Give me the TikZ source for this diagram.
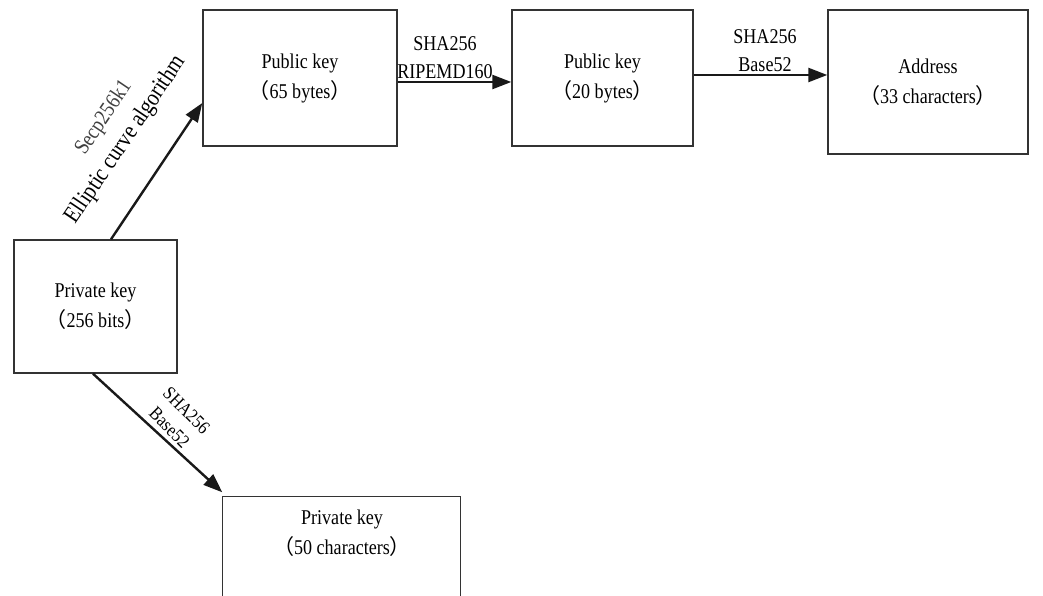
\documentclass[tikz,border=0pt]{standalone}
\usepackage{fontspec}
\setmainfont{Liberation Serif}[FakeStretch=0.86]
\newfontfamily\cjk{Noto Sans CJK SC}
\usepackage{tikz}
\usetikzlibrary{arrows.meta,positioning}
\newcommand{\lpar}{{\cjk （}}
\newcommand{\rpar}{{\cjk ）}}
\tikzstyle{block}=[draw=black!80, line width=1.4pt, inner sep=0pt,
                   align=center, font=\fontsize{21}{30}\selectfont]
\tikzstyle{link} =[-{Triangle[length=19pt,width=14pt]},
                   line width=2.4pt, draw=black!90]
\tikzstyle{note} =[align=center, inner sep=0pt,
                   font=\fontsize{21}{28}\selectfont]

\begin{document}
\begin{tikzpicture}[x=1pt, y=-1pt]
                \useasboundingbox (0,0) rectangle (1043,596);
                \clip (0,0) rectangle (1043,596);

                \node (priv)   [block, minimum width=163, minimum height=133] at (95.5,306.5) {Private key\\\lpar 256 bits\rpar};
                \node (pub65)  [block, minimum width=194, minimum height=136] at (300,78) {Public key\\\lpar 65 bytes\rpar};
                \node (pub20)  [block, minimum width=181, minimum height=136] at (602.5,78) {Public key\\\lpar 20 bytes\rpar};
                \node (addr)   [block, minimum width=200, minimum height=144] at (928,82) {Address\\\lpar 33 characters\rpar};
                \node (priv50) [block, draw=none, minimum width=238, minimum height=72] at (342,533) {Private key\\\lpar 50 characters\rpar};
                \draw [black!80, line width=1.4pt] (priv50.north west) rectangle ++(238,140);

                \draw [link] ([xshift=15.5pt]priv.north) to ([yshift=-25pt]pub65.west);
                \draw [link] ([xshift=-2.5pt]priv.south) to ([yshift=4pt]priv50.north west);
                \draw [link] ([yshift=-4pt]pub65.east) to ([yshift=-4pt]pub20.west);
                \draw [link] ([yshift=3pt]pub20.east) to ([yshift=7pt]addr.west);

                \node (secp)  [note, rotate=56, text=black!75, font=\fontsize{22}{28}\selectfont] at (104,118) {Secp256k1};
                \node (ecc)   [note, rotate=56, font=\fontsize{24}{28}\selectfont] at (126,140) {Elliptic curve algorithm};
                \node (hash1) [note] at (445,58) {SHA256\\RIPEMD160};
                \node (hash2) [note] at (765,51) {SHA256\\Base52};
                \node (hash3) [note, rotate=-45, font=\fontsize{19}{24}\selectfont] at (178,419) {SHA256\\Base52};
\end{tikzpicture}
\end{document}
